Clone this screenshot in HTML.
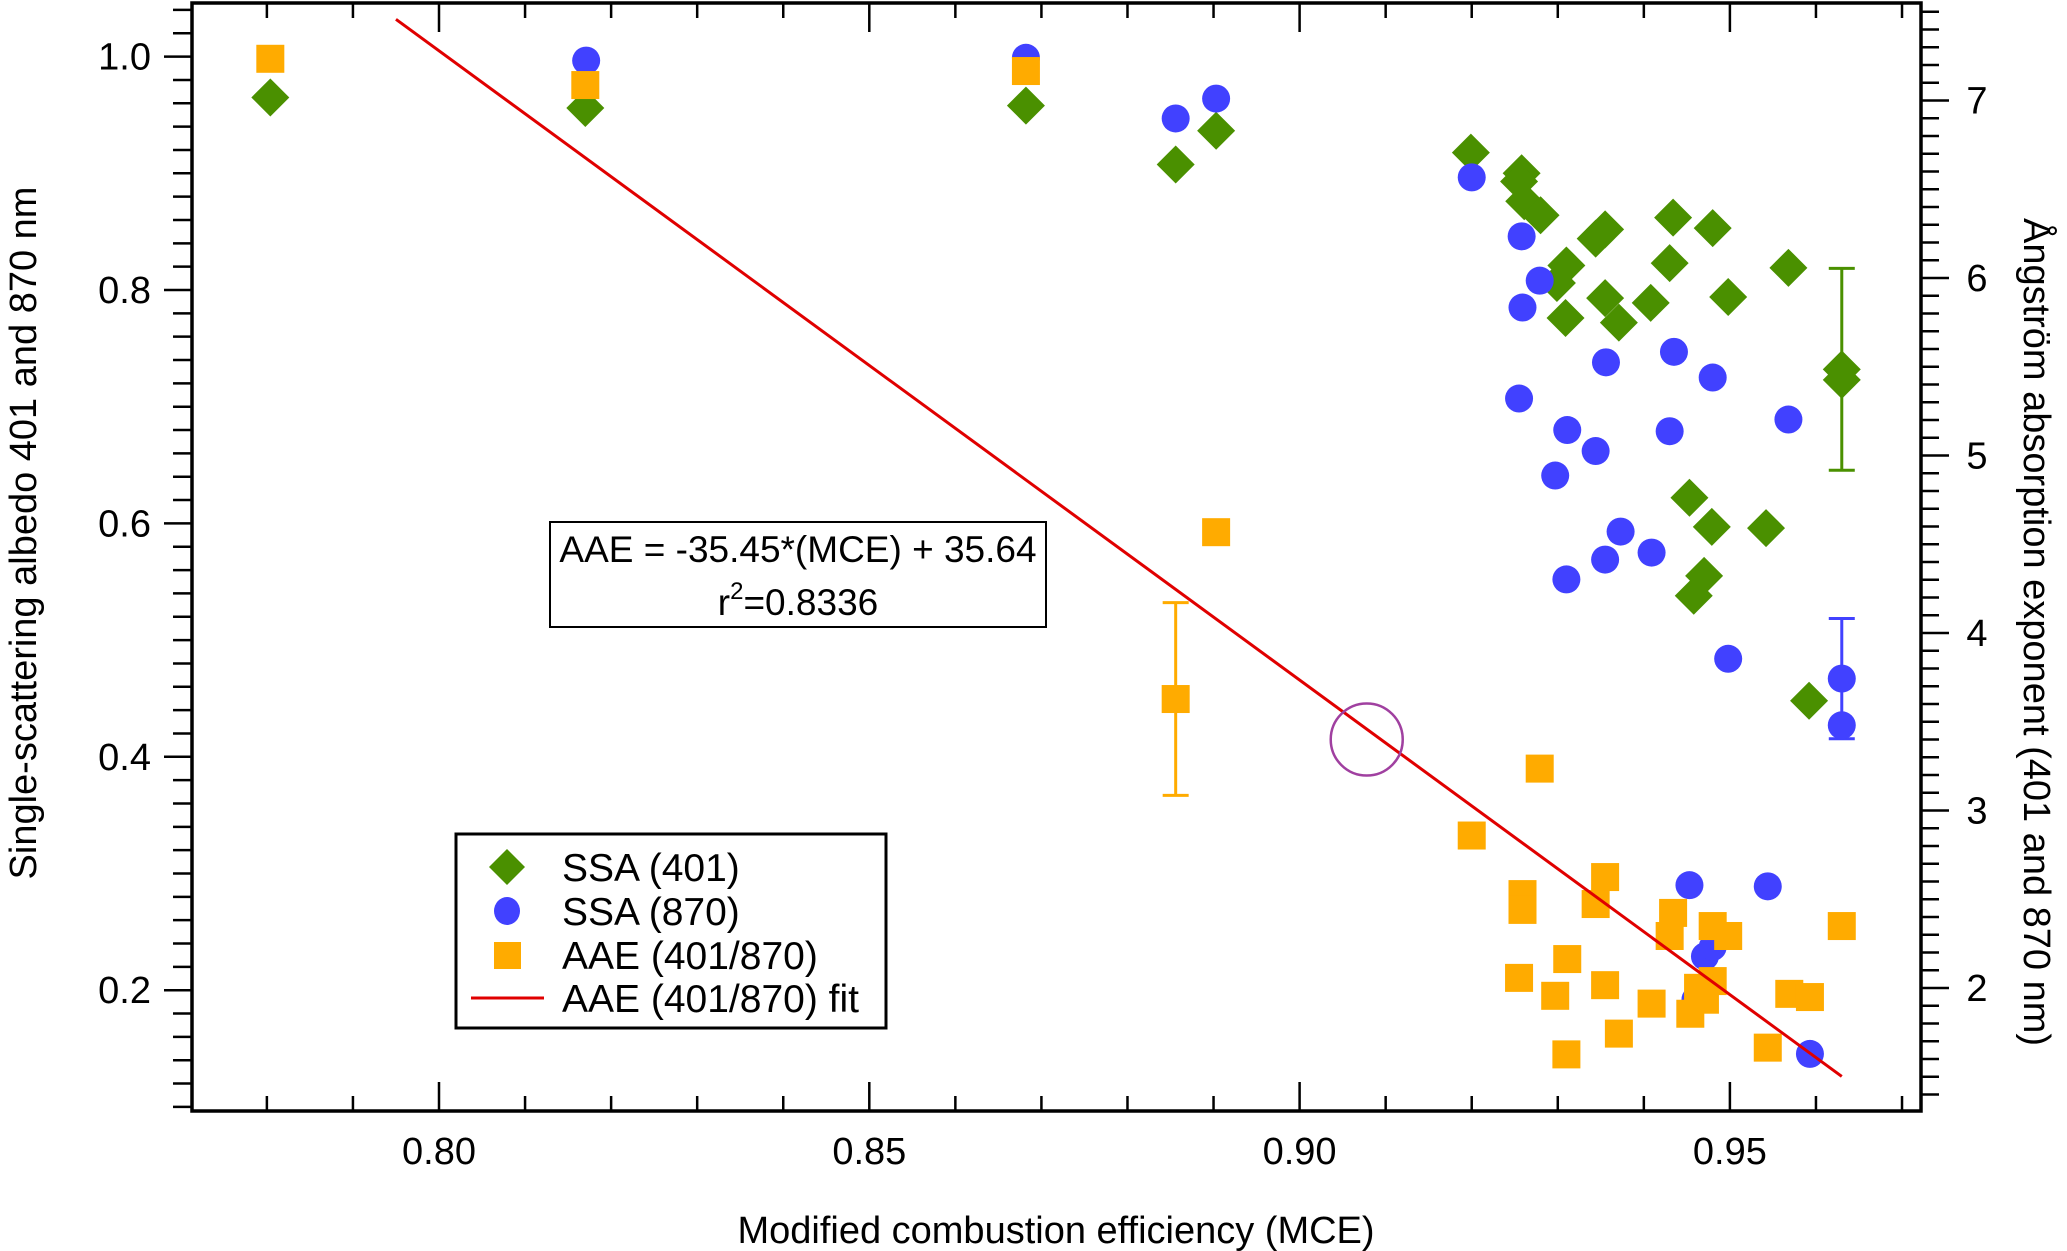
<!DOCTYPE html>
<html><head><meta charset="utf-8"><style>
html,body{margin:0;padding:0;background:#fff;}
svg{display:block;font-family:"Liberation Sans",Arial,sans-serif;}
</style></head><body>
<svg id="chart" width="2067" height="1251" viewBox="0 0 2067 1251" xmlns="http://www.w3.org/2000/svg">
<g id="axes"></g>
<g id="marks"></g>
<text x="1056" y="1243" font-size="38" text-anchor="middle">Modified combustion efficiency (MCE)</text>
<text transform="translate(36,533) rotate(-90)" font-size="38" text-anchor="middle">Single-scattering albedo 401 and 870 nm</text>
<text transform="translate(2024,632) rotate(90)" font-size="38" text-anchor="middle">Ångström absorption exponent (401 and 870 nm)</text>
<g>
<rect x="550" y="522" width="496" height="105" fill="#fff" stroke="#000" stroke-width="2"/>
<text x="798" y="562" font-size="37" text-anchor="middle">AAE = -35.45*(MCE) + 35.64</text>
<text x="798" y="615" font-size="37" text-anchor="middle">r<tspan dy="-16" font-size="24">2</tspan><tspan dy="16">=0.8336</tspan></text>
</g>
<g id="legend">
<rect x="456" y="834" width="430" height="194" fill="#fff" stroke="#000" stroke-width="3"/>
<g><polygon points="507,849 525,867 507,885 489,867" fill="#4a9000"/><text x="562" y="881" font-size="39">SSA (401)</text></g>
<g><ellipse cx="507" cy="911" rx="13" ry="14" fill="#4141ff"/><text x="562" y="925" font-size="39">SSA (870)</text></g>
<g><rect x="494" y="942" width="27" height="27" fill="#ffab00"/><text x="562" y="969" font-size="39">AAE (401/870)</text></g>
<g><line x1="471" y1="998" x2="544" y2="998" stroke="#e00000" stroke-width="3"/><text x="562" y="1012" font-size="39">AAE (401/870) fit</text></g>
</g>
</svg>
<script>
// ---- data ----
const ssa401X = [0.7804,0.8170,0.8682,0.8856,0.8903,0.9199,0.9258,0.9255,0.9261,0.928,0.9355,0.9344,0.9434,0.948,0.931,0.9299,0.943,0.9568,0.9355,0.9408,0.9498,0.9309,0.9371,0.963,0.963,0.9453,0.9479,0.9542,0.947,0.9458,0.9592];
const ssa401Y = [0.965,0.956,0.958,0.9075,0.9365,0.9177,0.900,0.893,0.876,0.864,0.852,0.844,0.862,0.853,0.821,0.806,0.823,0.819,0.793,0.789,0.794,0.776,0.772,0.732,0.723,0.622,0.597,0.596,0.555,0.538,0.448];
const ssa870X = [0.8171,0.8682,0.8856,0.8903,0.920,0.9258,0.9279,0.9259,0.9435,0.9356,0.948,0.9255,0.9568,0.9311,0.943,0.9344,0.9297,0.9373,0.9409,0.9355,0.931,0.9498,0.963,0.963,0.9453,0.9544,0.9471,0.948,0.946,0.9593];
const ssa870Y = [0.9966,0.999,0.947,0.964,0.8965,0.846,0.808,0.785,0.747,0.738,0.725,0.707,0.689,0.680,0.679,0.662,0.641,0.593,0.575,0.569,0.552,0.484,0.467,0.427,0.290,0.289,0.229,0.237,0.192,0.1454];
const aaeX = [0.7804,0.8170,0.8682,0.8903,0.8856,0.9279,0.920,0.9259,0.9259,0.9355,0.9344,0.9434,0.943,0.948,0.9498,0.963,0.9311,0.9255,0.9355,0.9297,0.9409,0.948,0.9463,0.9471,0.9454,0.9569,0.9593,0.9371,0.9544,0.931];
const aaeY = [7.235,7.087,7.166,4.568,3.628,3.236,2.859,2.529,2.44,2.625,2.473,2.423,2.293,2.349,2.293,2.349,2.163,2.057,2.016,1.956,1.912,2.039,2.001,1.934,1.855,1.967,1.949,1.743,1.664,1.626];
const errGreen = {x:0.963, y:0.732, e:0.0865};
const errBlue = {x:0.963, y:0.467, e:0.0515};
const errOrange = {x:0.8856, y:3.628, e:0.543};
const fitSlope = -35.45, fitIntercept = 35.64, fitRange = [0.795, 0.963];
const highlight = {x:0.9078, y:3.40};
const xTickLabels = ["0.80","0.85","0.90","0.95"];
const leftTickLabels = ["0.2","0.4","0.6","0.8","1.0"];
const rightTickLabels = ["2","3","4","5","6","7"];

// ---- axes functions ----
const L=192, R=1921, T=3, B=1111;
const X = v => 439 + (v-0.80)*8606;
const YL = v => 56.6 + (1-v)*1167;
const YR = v => 100.5 + (7-v)*177.5;
const NS='http://www.w3.org/2000/svg';
const axes=document.getElementById('axes'), marks=document.getElementById('marks');
function mk(tag, attrs, parent){const e=document.createElementNS(NS,tag);for(const k in attrs)e.setAttribute(k,attrs[k]);parent.appendChild(e);return e;}

// frame
let fr=mk('path',{d:`M${L},${B} L${L},${T} L${R},${T} L${R},${B} Z`,fill:'none',stroke:'#000','stroke-width':3.5},axes);



// x ticks (bottom & top, inward)
for(let i=78;i<=97;i++){
  const v=i/100, x=X(v); if(x<L||x>R) continue;
  const major = i%5===0, len = major?29:15;
  mk('line',{x1:x,y1:B,x2:x,y2:B-len,stroke:'#000','stroke-width':2.5},axes);
  mk('line',{x1:x,y1:T,x2:x,y2:T+len,stroke:'#000','stroke-width':2.5},axes);
}
xTickLabels.forEach(s=>{
  const t=mk('text',{x:X(parseFloat(s)),y:1164,'font-size':38,'text-anchor':'middle'},axes);
  t.textContent=s;
  
  
});
// left ticks (outward)
for(let i=5;i<=52;i++){
  const v=i/50, y=YL(v); if(y<T||y>B) continue;
  const major = i%10===0, len= major?28:19;
  mk('line',{x1:L,y1:y,x2:L-len,y2:y,stroke:'#000','stroke-width':2.5},axes);
}
leftTickLabels.forEach(s=>{
  const t=mk('text',{x:151,y:YL(parseFloat(s))+13,'font-size':38,'text-anchor':'end'},axes);
  t.textContent=s;
  
  
});
// right ticks (outward)
for(let i=13;i<=75;i++){
  const v=i/10, y=YR(v); if(y<T||y>B) continue;
  const major = i%10===0, len= major?28:18;
  mk('line',{x1:R,y1:y,x2:R+len,y2:y,stroke:'#000','stroke-width':2.5},axes);
}
rightTickLabels.forEach(s=>{
  const t=mk('text',{x:1977,y:YR(parseFloat(s))+13,'font-size':38,'text-anchor':'middle'},axes);
  t.textContent=s;
  
  
});

// error bars
function errbar(ex,ylo,yhi,color,name){
  const g=mk('g',{stroke:color,'stroke-width':3},marks);
  
  
  mk('line',{x1:ex,y1:ylo,x2:ex,y2:yhi},g);
  mk('line',{x1:ex-13,y1:ylo,x2:ex+13,y2:ylo},g);
  mk('line',{x1:ex-13,y1:yhi,x2:ex+13,y2:yhi},g);
}
errbar(X(errGreen.x),YL(errGreen.y-errGreen.e),YL(errGreen.y+errGreen.e),'#4a9000','ssa401-error-bar');
errbar(X(errBlue.x),YL(errBlue.y-errBlue.e),YL(errBlue.y+errBlue.e),'#4141ff','ssa870-error-bar');
errbar(X(errOrange.x),YR(errOrange.y-errOrange.e),YR(errOrange.y+errOrange.e),'#ffab00','aae-error-bar');

// diamonds
ssa401X.forEach((v,i)=>{
  const x=X(v), y=YL(ssa401Y[i]);
  const p=mk('polygon',{points:`${x},${y-19} ${x+19},${y} ${x},${y+19} ${x-19},${y}`,fill:'#4a9000'},marks);
  
  
});
// circles
ssa870X.forEach((v,i)=>{
  const c=mk('ellipse',{cx:X(v),cy:YL(ssa870Y[i]),rx:14,ry:14,fill:'#4141ff'},marks);
  
  
});
// squares
aaeX.forEach((v,i)=>{
  const r=mk('rect',{x:X(v)-14,y:YR(aaeY[i])-14,width:28,height:28,fill:'#ffab00'},marks);
  
  
});
// fit line
const fl=mk('line',{x1:X(fitRange[0]),y1:YR(fitSlope*fitRange[0]+fitIntercept),x2:X(fitRange[1]),y2:YR(fitSlope*fitRange[1]+fitIntercept),stroke:'#e00000','stroke-width':3},marks);


// highlight circle
const hc=mk('circle',{cx:X(highlight.x),cy:YR(highlight.y),r:36,fill:'none',stroke:'#a040a0','stroke-width':2.5},marks);


</script>
</body></html>
